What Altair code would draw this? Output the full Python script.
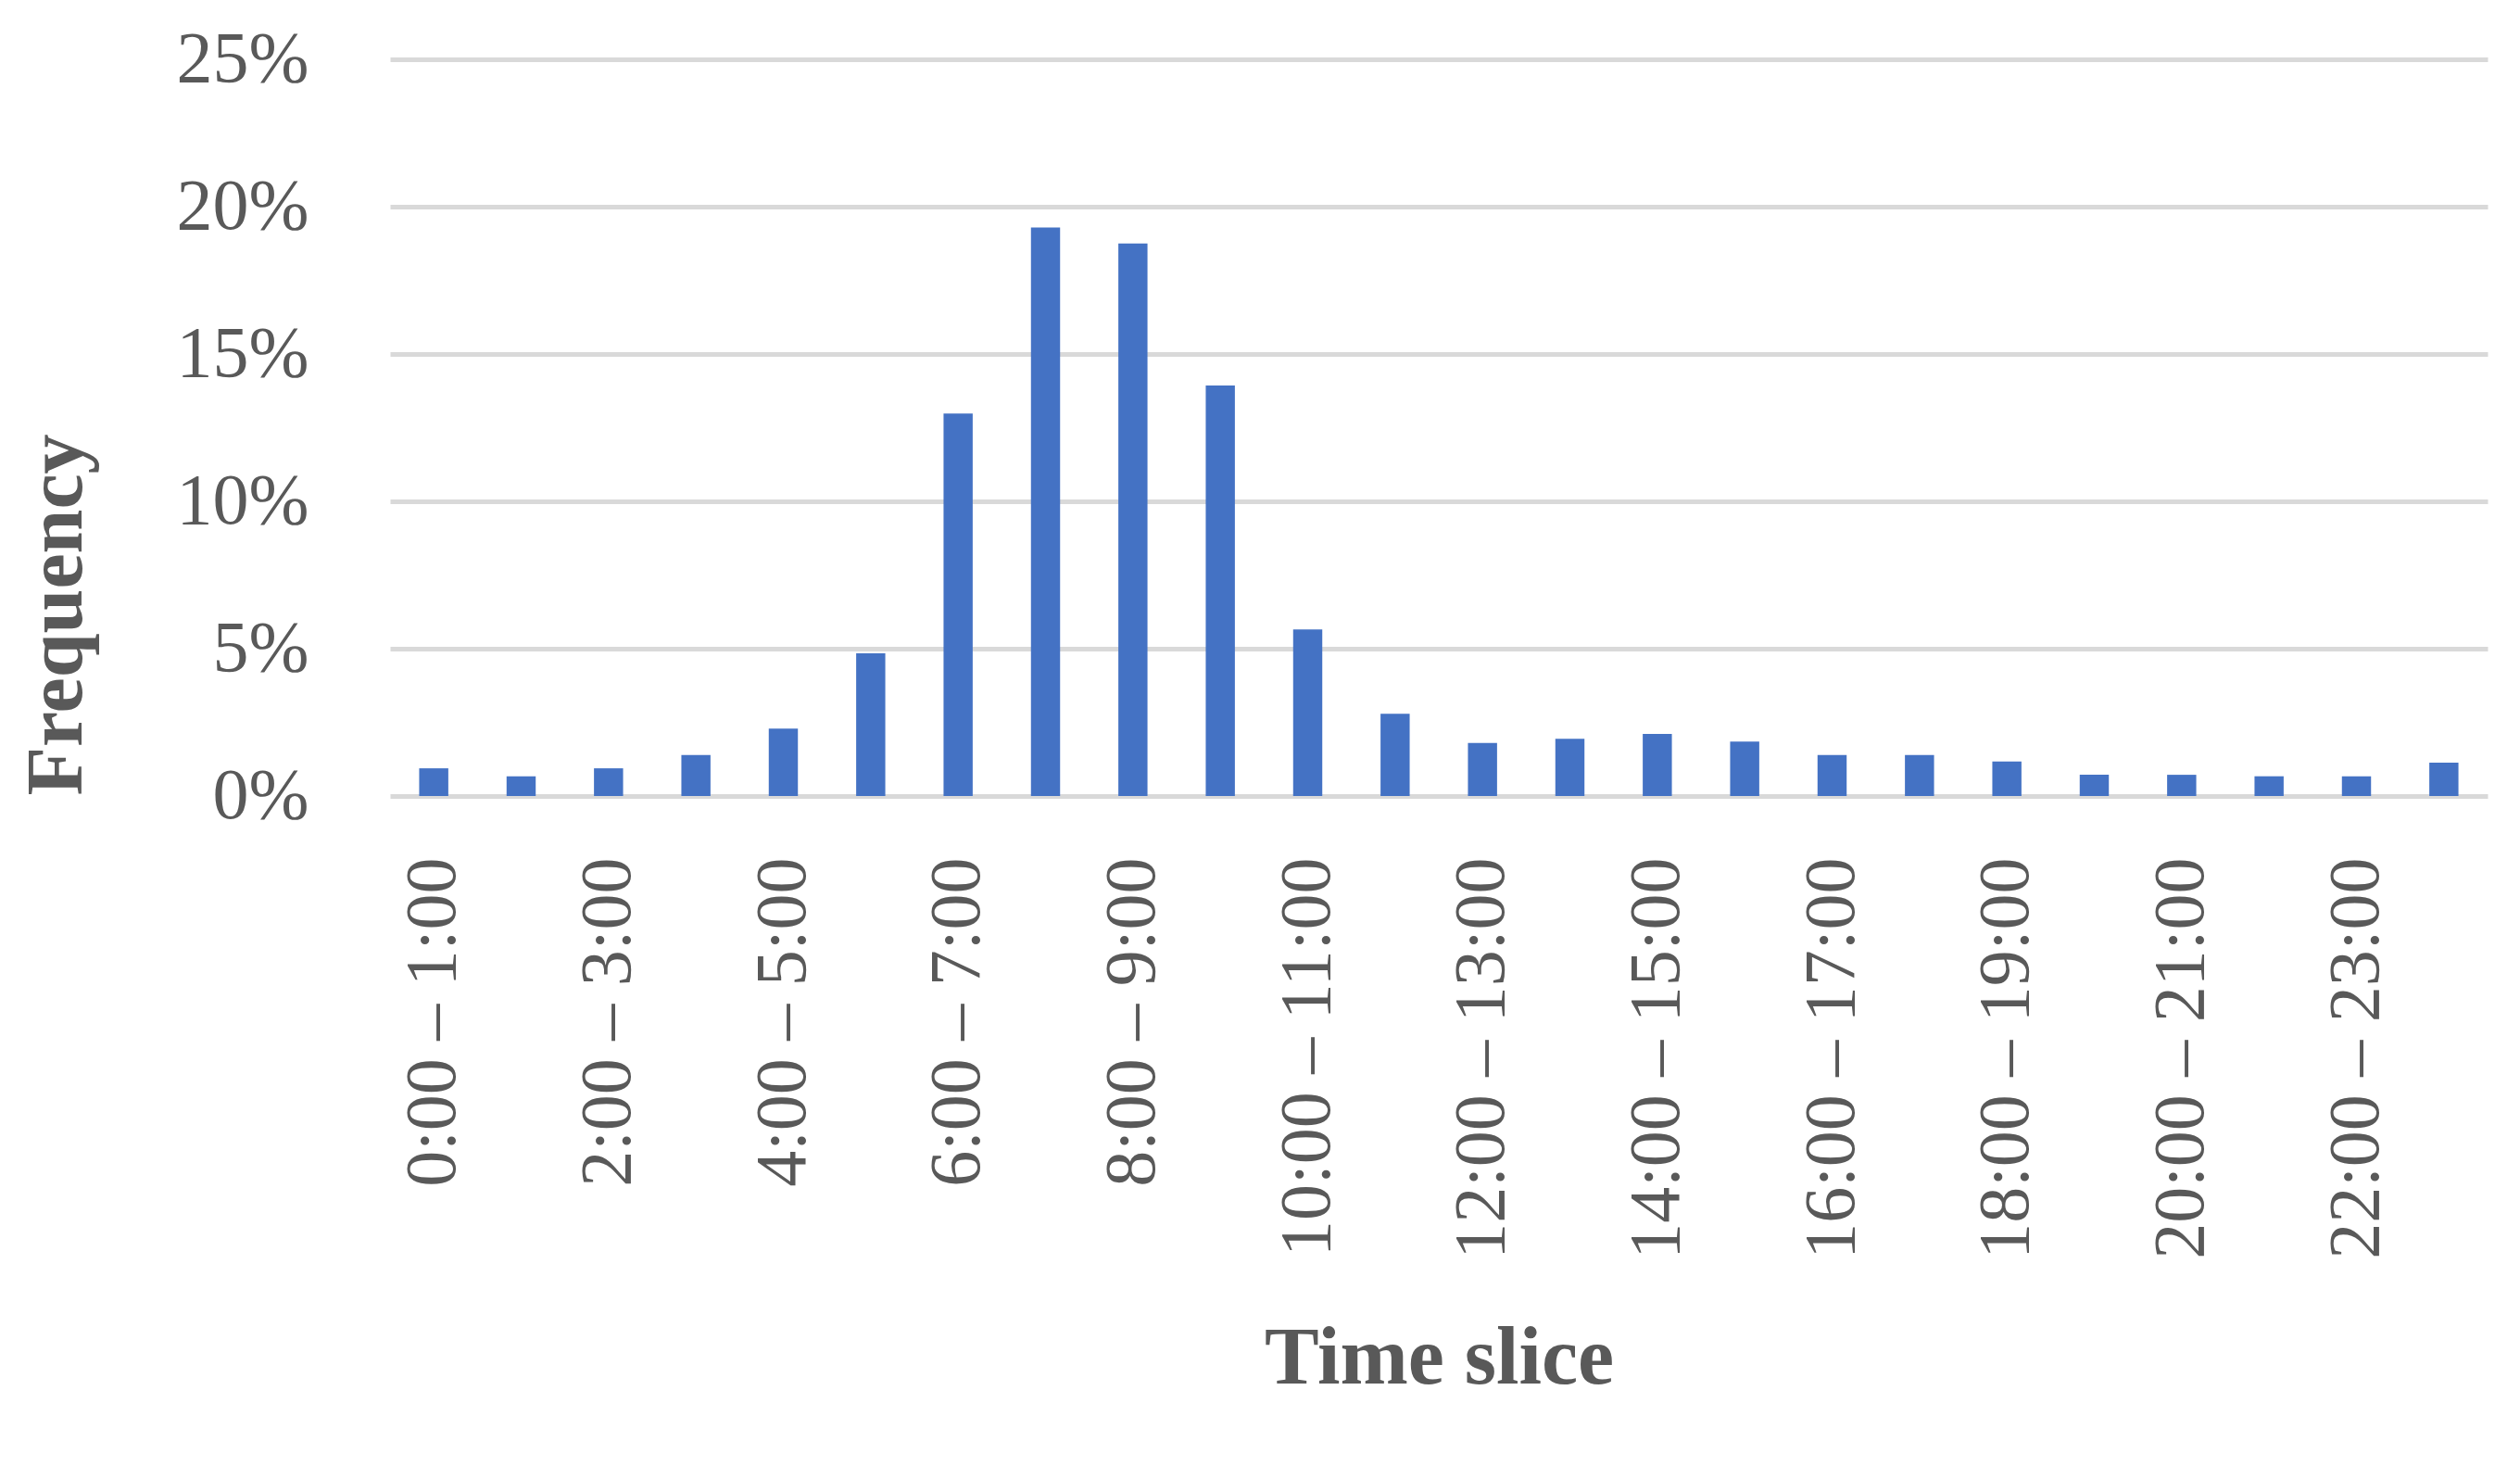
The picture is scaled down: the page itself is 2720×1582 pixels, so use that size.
import altair as alt
import pandas as pd

categories = [f"{h}:00 – {h+1}:00" for h in range(24)]
values = [0.94, 0.67, 0.94, 1.39, 2.29, 4.84, 12.98, 19.29, 18.75, 13.93, 5.65, 2.79,
          1.80, 1.94, 2.11, 1.85, 1.39, 1.39, 1.17, 0.72, 0.72, 0.67, 0.67, 1.13]
y_ticks = [0, 0.05, 0.10, 0.15, 0.20, 0.25]
shown_labels = categories[::2]

df = pd.DataFrame({"slice": categories, "freq": [v / 100 for v in values]})

FONT = "Liberation Serif"
GRAY = "#595959"

chart = alt.Chart(df).mark_bar(color="#4472C4").encode(
    x=alt.X("slice:N", sort=categories,
            scale=alt.Scale(paddingInner=2/3, paddingOuter=1/3),
            axis=alt.Axis(values=shown_labels, labelAngle=270, labelFontSize=78,
                          labelFont=FONT, labelColor=GRAY, ticks=False, domain=False,
                          labelLimit=0, labelOverlap=False,
                          labelPadding=66, title="Time slice", titleFont=FONT,
                          titleFontSize=88, titleFontWeight="bold", titleColor=GRAY,
                          titleX=1132, titleY=607, titleBaseline="middle",
                          titleAlign="center")),
    y=alt.Y("freq:Q", scale=alt.Scale(domain=[0, 0.25]),
            axis=alt.Axis(values=y_ticks, format=".0%", labelFontSize=78,
                          labelFont=FONT, labelColor=GRAY, ticks=False, domain=False,
                          labelPadding=88, gridColor="#d9d9d9", gridWidth=5,
                          title="Frequency", titleFont=FONT, titleFontSize=86,
                          titleFontWeight="bold", titleColor=GRAY, titleAngle=270,
                          titleX=-360, titleY=599, titleBaseline="middle",
                          titleAlign="center")),
).properties(
    width=2264, height=795,
    autosize=alt.AutoSizeParams(type="none"),
    padding={"left": 413, "top": 56, "right": 27, "bottom": 690},
).configure_view(stroke=None)

chart.save("out.html", embed_options={"renderer": "svg", "actions": False})
